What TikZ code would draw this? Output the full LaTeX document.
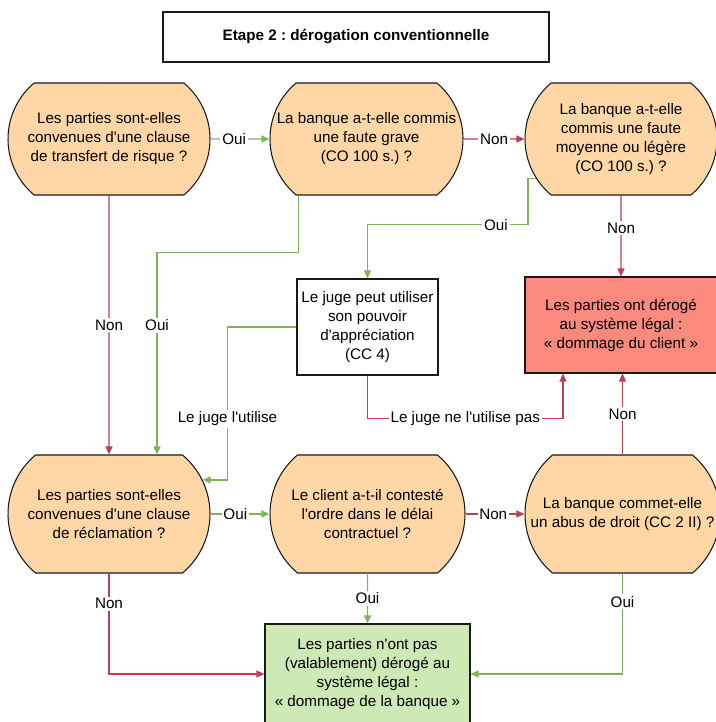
\documentclass[tikz,border=0pt]{standalone}
\usepackage{fontspec}
\setmainfont{Liberation Sans}
\usepackage{xcolor}
\usepackage{tikz}
\usetikzlibrary{shapes.misc,arrows.meta,positioning,calc}

\definecolor{peach}{RGB}{255,214,165}
\definecolor{salmon}{RGB}{250,138,125}
\definecolor{mint}{RGB}{205,233,182}
\definecolor{ouigreen}{RGB}{126,181,92}
\definecolor{nonred}{RGB}{184,66,84}
\newcommand{\ap}{\textquotesingle}
\frenchspacing

\begin{document}
\begin{tikzpicture}[x=0.3mm,y=-0.3mm,
            txt/.style={font=\fontsize{13}{16.2}\selectfont,align=center},
            question/.style={txt,rounded rectangle,rounded rectangle arc length=100,
                draw=black!90,line width=0.9pt,fill=peach,inner sep=0pt,
                minimum width=#1,minimum height=33.6mm},
            result/.style={txt,rectangle,draw=black!90,line width=0.9pt,inner sep=0pt,
                minimum height=28.8mm},
            lbl/.style={txt,fill=white,inner sep=1.5pt},
            oui/.style={draw=ouigreen,line width=1pt,-{Triangle[length=2.4mm,width=2.1mm]}},
            non/.style={draw=nonred,line width=1pt,-{Triangle[length=2.4mm,width=2.1mm]}}]
            \useasboundingbox (0,0) rectangle (715,722);
            % title
            \node[result,minimum width=115.8mm,minimum height=15mm] (titre) at (356,37)
                {\bfseries Etape 2 : dérogation conventionnelle};
            % first row
            \node[question=60.6mm] (risque) at (109,139)
                {Les parties sont-elles\\convenues d\ap une clause\\de transfert de risque ?};
            \node[question=57.9mm] (grave) at (366.5,139)
                {La banque a-t-elle commis\\une faute grave\\(CO 100 s.) ?};
            \node[question=57.6mm] (legere) at (621,139)
                {La banque a-t-elle\\commis une faute\\moyenne ou légère\\(CO 100 s.) ?};
            % middle row
            \node[result,fill=white,minimum width=42.3mm] (juge) at (367.5,327)
                {Le juge peut utiliser\\son pouvoir\\d\ap appréciation\\(CC 4)};
            \node[result,fill=salmon,minimum width=57.6mm] (client) at (621,325)
                {Les parties ont dérogé\\au système légal :\\«~dommage du client~»};
            % second row
            \node[question=60.6mm,minimum height=35.4mm] (reclam) at (109,514)
                {Les parties sont-elles\\convenues d\ap une clause\\de réclamation ?};
            \node[question=58.5mm,minimum height=35.4mm] (delai) at (367.5,514)
                {Le client a-t-il contesté\\l\ap ordre dans le délai\\contractuel ?};
            \node[question=58.5mm,minimum height=35.4mm] (abus) at (622.5,514)
                {La banque commet-elle\\un abus de droit (CC 2 II) ?};
            \node[result,fill=mint,minimum width=61.5mm,minimum height=30mm] (banque) at (367.5,674)
                {Les parties n\ap ont pas\\(valablement) dérogé au\\système légal :\\«~dommage de la banque~»};
            % connectors
            \draw[oui] (risque) -- node[lbl,pos=0.4]{Oui} (grave);
            \draw[non] (grave) -- node[lbl]{Non} (legere);
            \draw[non] (risque) -- node[lbl]{Non} (reclam);
            \draw[oui] ($(grave.south)+(-68,0)$) -- ++(0,57) -| node[lbl,pos=0.68]{Oui} ($(reclam.north)+(48,0)$);
            \draw[oui] (legere.205) -- ++(-8,0) -- ++(0,46) -| node[lbl,pos=0.1]{Oui} (juge.north);
            \draw[non] (legere) -- node[lbl,pos=0.4]{Non} (client);
            \draw[oui] (juge.west) -- ++(-69,0) |- node[lbl,pos=0.3]{Le juge l\ap utilise} (reclam.20);
            \draw[non] (juge.south) -- ++(0,43) -| node[lbl,pos=0.25]{Le juge ne l\ap utilise pas} ($(client.south)+(-58,0)$);
            \draw[non] (abus.north) -- node[lbl]{Non} (abus.north |- client.south);
            \draw[oui] (reclam) -- node[lbl,pos=0.42]{Oui} (delai);
            \draw[non] (delai) -- node[lbl,pos=0.47]{Non} (abus);
            \draw[non] (reclam.south) |- node[lbl,pos=0.15]{Non} (banque.west);
            \draw[oui] (delai) -- node[lbl]{Oui} (banque);
            \draw[oui] (abus.south) |- node[lbl,pos=0.14]{Oui} (banque.east);
\end{tikzpicture}
\end{document}
